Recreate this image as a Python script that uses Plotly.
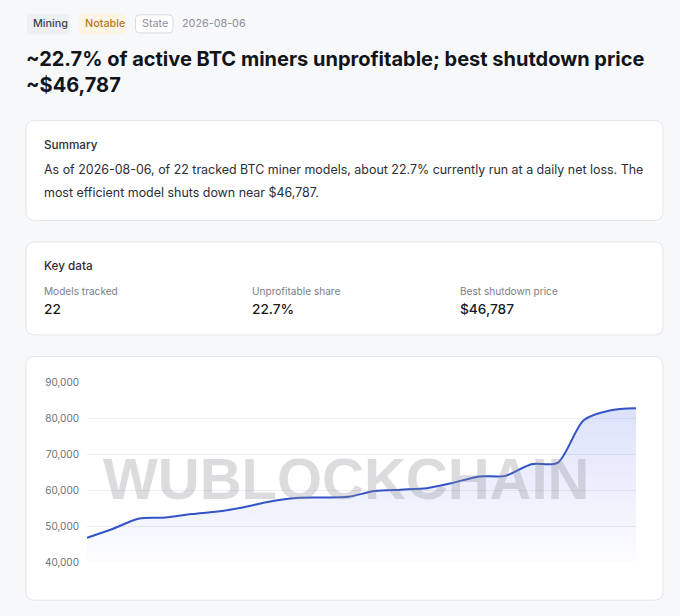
import plotly.graph_objects as go

W, H = 680, 616

# ---- data ----
model_index = list(range(22))
shutdown_price = [46787, 49300, 52150, 52400, 53400, 54100, 55300, 56900, 57900, 58000,
                  58200, 59800, 60200, 60600, 62100, 63900, 64050, 67300, 67700, 79600,
                  82300, 82900]
y_ticks = [40000, 50000, 60000, 70000, 80000, 90000]

tags = ["Mining", "Notable", "State"]
date_text = "2026-08-06"
title_lines = ["~22.7% of active BTC miners unprofitable; best shutdown price", "~$46,787"]
summary_lines = [
    "As of 2026-08-06, of 22 tracked BTC miner models, about 22.7% currently run at a daily net loss. The",
    "most efficient model shuts down near $46,787.",
]
key_labels = ["Models tracked", "Unprofitable share", "Best shutdown price"]
key_values = ["22", "22.7%", "$46,787"]

FONT = "Inter"


def X(x):
    return x / W


def Y(y):
    return 1 - y / H


def rrect(x0, y0, x1, y1, r, fill, line, lw=1):
    p = (f"M {X(x0 + r)},{Y(y0)} L {X(x1 - r)},{Y(y0)} Q {X(x1)},{Y(y0)} {X(x1)},{Y(y0 + r)} "
         f"L {X(x1)},{Y(y1 - r)} Q {X(x1)},{Y(y1)} {X(x1 - r)},{Y(y1)} "
         f"L {X(x0 + r)},{Y(y1)} Q {X(x0)},{Y(y1)} {X(x0)},{Y(y1 - r)} "
         f"L {X(x0)},{Y(y0 + r)} Q {X(x0)},{Y(y0)} {X(x0 + r)},{Y(y0)} Z")
    return dict(type="path", path=p, xref="paper", yref="paper", fillcolor=fill,
                line=dict(color=line, width=lw), layer="below")


def txt(x, y, s, size, color, weight=400, anchor="left"):
    return dict(x=X(x), y=Y(y), xref="paper", yref="paper", text=s, showarrow=False,
                xanchor=anchor, yanchor="middle", align="left",
                font=dict(family=FONT, size=size, color=color, weight=weight))


fig = go.Figure()
fig.add_trace(go.Scatter(
    x=model_index, y=shutdown_price, mode="lines",
    line=dict(color="#3353c6", width=2, shape="spline", smoothing=0.8),
    fill="tozeroy",
    fillgradient=dict(type="vertical", start=40000, stop=83000,
                      colorscale=[[0, "rgba(70,100,225,0.01)"], [1, "rgba(70,100,225,0.19)"]]),
    hoverinfo="skip", showlegend=False,
))

shapes = [
    # tags
    rrect(27, 7, 70, 28, 4, "#eff0f2", "rgba(0,0,0,0)", 0),
    rrect(79, 7, 125, 28, 4, "#fdf5e4", "rgba(0,0,0,0)", 0),
    rrect(135.5, 8, 173, 26.5, 4, "#ffffff", "#d6d9de", 1),
    # cards
    rrect(26, 116, 663, 218, 9, "#ffffff", "#e3e5e9", 1),
    rrect(26, 240, 663, 335, 9, "#ffffff", "#e3e5e9", 1),
    rrect(26, 357, 663, 606, 9, "#ffffff", "#e3e5e9", 1),
]

ann = [
    txt(31, 17, tags[0], 10.8, "#3f444b", 500),
    txt(83, 17, tags[1], 10.8, "#b7791f", 500),
    txt(140, 17, tags[2], 10.8, "#8a8f98", 400),
    txt(180, 17, date_text, 10.8, "#8a8f98", 400),
    txt(24, 53, title_lines[0], 20, "#111418", 700),
    txt(24, 80, title_lines[1], 20, "#111418", 700),
    txt(42, 141, "Summary", 11.7, "#2a2e35", 500),
    txt(42, 166, summary_lines[0], 12.45, "#2a2e35", 400),
    txt(42, 190, summary_lines[1], 12.45, "#2a2e35", 400),
    txt(42, 265, "Key data", 11.7, "#2a2e35", 500),
]
for i, (lab, val) in enumerate(zip(key_labels, key_values)):
    x0 = [42, 250, 458][i]
    ann.append(txt(x0, 290, lab, 10.1, "#7b8088", 400))
    ann.append(txt(x0, 309, val, 13.7, "#16191d", 500))

# watermark
ann.append(dict(x=X(346), y=Y(482), xref="paper", yref="paper", text="WUBLOCKCHAIN",
                showarrow=False, xanchor="center", yanchor="middle",
                font=dict(family="Liberation Sans", size=58, color="rgba(140,140,148,0.3)", weight=700)))

fig.update_layout(
    width=W, height=H, margin=dict(l=0, r=0, t=0, b=0),
    paper_bgcolor="#f7f8fa", plot_bgcolor="rgba(0,0,0,0)",
    shapes=shapes, annotations=ann,
    xaxis=dict(domain=[X(87), X(636)], range=[0, 21], showgrid=False, zeroline=False,
               showticklabels=False, showline=False, fixedrange=True),
    yaxis=dict(domain=[Y(567), Y(384)], range=[40000, 90000], tickvals=y_ticks,
               tickformat=",d", showgrid=True, gridcolor="#eceef2", gridwidth=1,
               zeroline=False, showline=False, ticks="", ticklabelstandoff=7,
               tickfont=dict(family=FONT, size=10, color="#6b7079"), fixedrange=True),
)

fig.write_html(
    "out.html", config={"displayModeBar": False},
    post_script=("document.documentElement.style.overflow='hidden';"
                 "document.body.style.margin='0';document.body.style.background='#f7f8fa';"
                 "var g=document.getElementById('{plot_id}');"
                 "g.style.position='fixed';g.style.top='0px';g.style.left='0px';"),
)
